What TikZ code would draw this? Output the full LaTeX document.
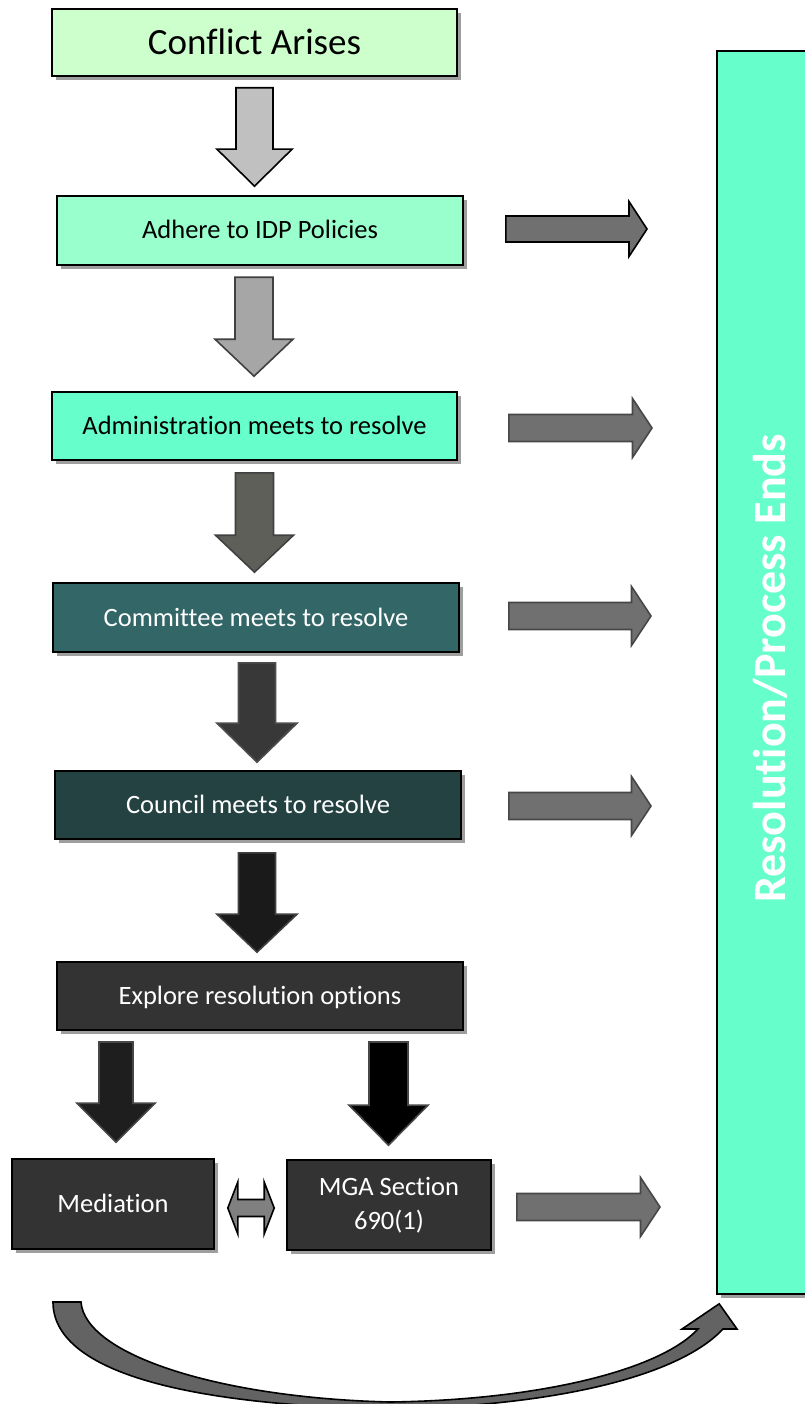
\documentclass[tikz,border=0pt]{standalone}
\usepackage{fontspec}
\setmainfont{Carlito}[Ligatures={NoCommon}]
\usetikzlibrary{shadows,calc}
\definecolor{cA}{HTML}{CCFFCC}
\definecolor{cB}{HTML}{99FFCC}
\definecolor{cC}{HTML}{66FFCC}
\definecolor{cD}{HTML}{336666}
\definecolor{cE}{HTML}{244242}
\definecolor{cF}{HTML}{333333}
\definecolor{f1}{HTML}{C0C0C0}
\definecolor{f2}{HTML}{A6A6A6}
\definecolor{f3}{HTML}{5F5F59}
\definecolor{f4}{HTML}{383838}
\definecolor{f5}{HTML}{1A1A1A}
\definecolor{f6}{HTML}{1E1E1E}
\definecolor{o1}{HTML}{404040}
\definecolor{o2}{HTML}{4D4D4D}
\definecolor{o3}{HTML}{474747}
\definecolor{fr}{HTML}{707070}
\definecolor{fd}{HTML}{808080}
\definecolor{fc}{HTML}{636363}
\newcommand\vblock[6]{% style, start, tip, shaft half, head half, head length
  \draw[#1] let \p1=(#2), \p2=(#3) in
    (\x1-#4pt,\y1) -- (\x1+#4pt,\y1) -- (\x1+#4pt,\y2+#6pt) -- (\x1+#5pt,\y2+#6pt)
    -- (\x1,\y2) -- (\x1-#5pt,\y2+#6pt) -- (\x1-#4pt,\y2+#6pt) -- cycle;}
\newcommand\hblock[6]{% style, start, tip, shaft half, head half, head length
  \draw[#1] let \p1=(#2), \p2=(#3) in
    (\x1,\y1+#4pt) -- (\x2-#6pt,\y1+#4pt) -- (\x2-#6pt,\y1+#5pt) -- (\x2,\y1)
    -- (\x2-#6pt,\y1-#5pt) -- (\x2-#6pt,\y1-#4pt) -- (\x1,\y1-#4pt) -- cycle;}
\begin{document}
\begin{tikzpicture}[x=1pt,y=-1pt,
  box/.style={draw=black, line width=1.6pt, inner sep=0pt, text height=17pt, text depth=0pt,
    font=\fontsize{26.5}{32}\selectfont,
    drop shadow={shadow xshift=4pt, shadow yshift=-4pt, fill=black!38, opacity=1}},
  lightbox/.style={box, text=black},
  darkbox/.style={box, text=white},
  arr/.style={line width=1.6pt, line join=miter},
]
\useasboundingbox (0,0) rectangle (804,1404);

% boxes
\node[lightbox, fill=cA, minimum width=405pt, minimum height=67pt, text height=23.5pt,
  font=\fontsize{37}{44}\selectfont] (b1) at (254.5,42.5) {Conflict Arises};
\node[lightbox, fill=cB, minimum width=406pt, minimum height=69pt] (b2) at (260,230.5) {Adhere to IDP Policies};
\node[lightbox, fill=cC, minimum width=405pt, minimum height=68pt] (b3) at (254.5,426) {Administration meets to resolve};
\node[darkbox, fill=cD, minimum width=406pt, minimum height=69pt] (b4) at (256,617.5) {Committee meets to resolve};
\node[darkbox, fill=cE, minimum width=406pt, minimum height=68pt] (b5) at (258,805) {Council meets to resolve};
\node[darkbox, fill=cF, minimum width=406pt, minimum height=68pt] (b6) at (260,996) {Explore resolution options};
\node[darkbox, fill=cF, minimum width=202pt, minimum height=90pt] (med) at (113,1204) {Mediation};
\node[darkbox, fill=cF, minimum width=204pt, minimum height=90pt, align=center,
  text height=, text depth=, font=\fontsize{26.5}{34}\selectfont] (mga) at (389,1205) {MGA Section\\690(1)};
\node[box, fill=cC, minimum width=106pt, minimum height=1243pt] (res) at (770,672.5) {};
\node[rotate=90, text=white, font=\fontsize{46}{50}\selectfont\bfseries] (restext) at ($(res.center)+(0,-4)$) {Resolution/Process Ends};

% down arrows
\coordinate (a1s) at ($(b1.south)+(0,11)$);   \coordinate (a1e) at ($(b2.north)+(0,-9)$);
\coordinate (a2s) at ($(b2.south)+(-6,11.5)$); \coordinate (a2e) at ($(b3.north)+(0,-15)$);
\coordinate (a3s) at ($(b3.south)+(0,12)$);   \coordinate (a3e) at ($(b4.north)+(0,-10)$);
\coordinate (a4s) at ($(b4.south)+(1,10)$);   \coordinate (a4e) at ($(b5.north)+(0,-8)$);
\coordinate (a5s) at ($(b5.south)+(-1,13)$);  \coordinate (a5e) at ($(b6.north)+(0,-9)$);
\coordinate (a6s) at (116,1042);              \coordinate (a6e) at ($(med.north)+(0,-16)$);
\coordinate (a7s) at (388.5,1042);            \coordinate (a7e) at ($(mga.north)+(0,-14)$);
\vblock{arr, draw=black, fill=f1}{a1s}{a1e}{18.5}{37.5}{37}
\vblock{arr, draw=o1, fill=f2}{a2s}{a2e}{19}{39}{37}
\vblock{arr, draw=o1, fill=f3}{a3s}{a3e}{19}{39}{37}
\vblock{arr, draw=o2, fill=f4}{a4s}{a4e}{18.5}{40}{39}
\vblock{arr, draw=o1, fill=f5}{a5s}{a5e}{18.5}{40}{38}
\vblock{arr, draw=o3, fill=f6}{a6s}{a6e}{17}{39}{39}
\vblock{arr, draw=o3, fill=black}{a7s}{a7e}{19.5}{39.5}{40}

% right arrows
\coordinate (r1s) at ($(b2.east)+(42,-1.5)$); \coordinate (r1e) at (647,229);
\coordinate (r2s) at ($(b3.east)+(51,2)$);    \coordinate (r2e) at (652,428);
\coordinate (r3s) at ($(b4.east)+(49,-1.5)$); \coordinate (r3e) at (651,616);
\coordinate (r4s) at ($(b5.east)+(47,1)$);    \coordinate (r4e) at (651,806);
\coordinate (r5s) at ($(mga.east)+(25,2)$);   \coordinate (r5e) at (660,1207);
\hblock{arr, draw=black, fill=fr}{r1s}{r1e}{13}{27.5}{18}
\foreach \i in {2,3,4,5}{
  \hblock{arr, draw=o3, fill=fr}{r\i s}{r\i e}{13.5}{29.5}{19.5}
}

% double arrow
\coordinate (dl) at ($(med.east)+(13,4)$);
\coordinate (dr) at ($(mga.west)+(-12,3)$);
\draw[arr, draw=black, fill=fd] let \p1=(dl), \p2=(dr) in
  (\x1,\y1) -- (\x1+10pt,\y1+26pt) -- (\x1+10pt,\y1+8.5pt) -- (\x2-10pt,\y1+8.5pt)
  -- (\x2-10pt,\y1+26pt) -- (\x2,\y1) -- (\x2-10pt,\y1-26pt) -- (\x2-10pt,\y1-8.5pt)
  -- (\x1+10pt,\y1-8.5pt) -- (\x1+10pt,\y1-26pt) -- cycle;

% curved arrow back to the resolution box
\coordinate (ctail) at (53,1302);
\coordinate (ctip) at ($(res.south west)+(3,9)$);
\draw[line width=1.6pt, draw=black, fill=fc]
  (ctail) .. controls (53,1370) and (180,1405) .. (390,1409)
  .. controls (560,1406) and (680,1375) .. (723,1329) -- (737,1329) -- (ctip)
  -- (682,1329) -- (698,1329) .. controls (660,1370) and (540,1400) .. (390,1402)
  .. controls (220,1398) and (85,1355) .. (81,1302) -- cycle;
\end{tikzpicture}
\end{document}
